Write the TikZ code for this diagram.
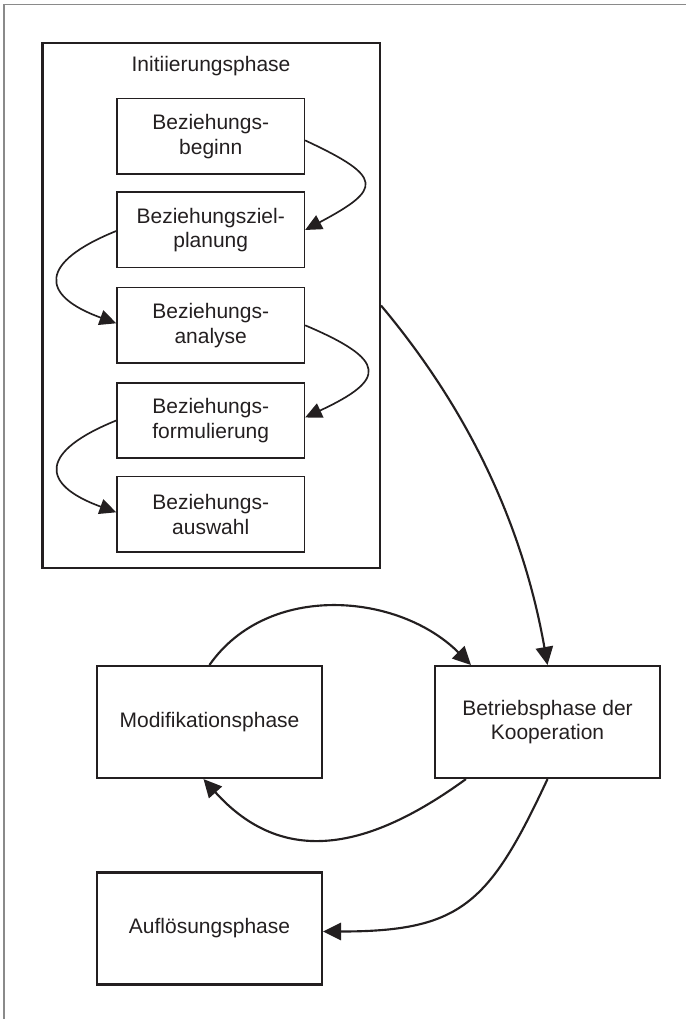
\documentclass[tikz,border=0pt]{standalone}
\usepackage{fontspec}
\setmainfont{Liberation Sans}
\usetikzlibrary{arrows.meta,calc}
\definecolor{ink}{RGB}{35,31,32}
\definecolor{framegray}{RGB}{138,138,138}
\begin{document}
\begin{tikzpicture}[x=0.75pt,y=-0.75pt,
  font=\fontsize{15.75pt}{18.5pt}\selectfont,
  outerbox/.style={draw=ink, line width=1.7pt, minimum width=253pt, minimum height=393.75pt, inner sep=0pt},
  phasebox/.style={draw=ink, line width=1.15pt, minimum width=140.5pt, minimum height=56.6pt,
    align=center, inner sep=0pt, text=ink},
  bigbox/.style={draw=ink, line width=1.6pt, minimum width=168.75pt, minimum height=84pt,
    align=center, inner sep=0pt, text=ink},
  flow/.style={draw=ink, line width=1.25pt, -{Triangle[length=12.5pt,width=11.5pt]}},
  bigflow/.style={draw=ink, line width=1.6pt, -{Triangle[length=13.5pt,width=13pt]}},
]
\useasboundingbox (0,0) rectangle (686,1019);

% page frame (left and top edges)
\draw[framegray, line width=1.1pt] (3.8,1019) -- (3.8,4.5) -- (686,4.5);

% initiation phase with its sub-steps
\node[outerbox] (init) at (211.2,305.5) {};
\node[anchor=base, text=ink] (title) at (211,71.7) {Initiierungsphase};

\node[phasebox] (b1) at (210.7,136.4) {Beziehungs-\\beginn};
\node[phasebox] (b2) at (210.7,230.0) {Beziehungsziel-\\planung};
\node[phasebox] (b3) at (210.7,325.3) {Beziehungs-\\analyse};
\node[phasebox] (b4) at (210.7,420.5) {Beziehungs-\\formulierung};
\node[phasebox] (b5) at (210.7,514.3) {Beziehungs-\\auswahl};

% later phases
\node[bigbox] (mod) at (209.5,722) {Modifikationsphase};
\node[bigbox] (betrieb) at (547.5,722) {Betriebsphase der\\Kooperation};
\node[bigbox] (aufl) at (209.5,928.5) {Auflösungsphase};

% zig-zag through the initiation steps
\draw[flow] ($(b1.east)+(0,4)$) to[out=-25,in=28,looseness=2.5] (b2.east);
\draw[flow] ($(b2.west)+(0,1)$) to[out=202,in=160,looseness=2.3] ($(b3.west)+(0,-2)$);
\draw[flow] (b3.east) to[out=-23,in=25,looseness=2.5] ($(b4.east)+(0,-3)$);
\draw[flow] (b4.west) to[out=202,in=160,looseness=2.3] ($(b5.west)+(0,-2)$);

% transitions between the phases
\draw[bigflow] (init.east) to[out=-50,in=100,looseness=0.9] (betrieb.north);
\draw[bigflow] (mod.north) to[out=55,in=135] ($(betrieb.north west)+(37,0)$);
\draw[bigflow] ($(betrieb.south west)+(32,0)$) to[out=-144,in=-48,looseness=1.17] ($(mod.south)+(-6,0)$);
\draw[bigflow] (betrieb.south) to[out=-115,in=0,looseness=1.3] ($(aufl.east)+(0,3)$);
\end{tikzpicture}
\end{document}
